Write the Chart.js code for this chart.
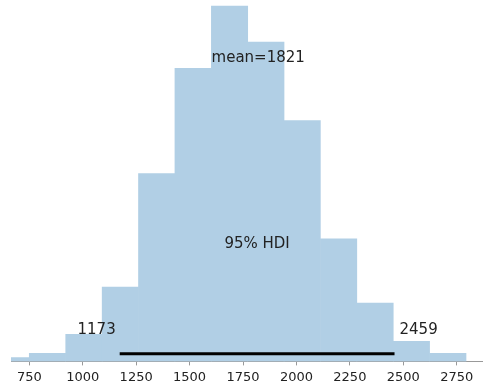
<!DOCTYPE html>
<html lang="en">
<head>
  <meta charset="UTF-8" />
  <title>Posterior</title>
  <script src="https://cdn.jsdelivr.net/npm/chart.js"></script>
  <style>
    html, body {
      margin: 0;
      background: white;
    }
    #posterior {
      display: block;
    }
  </style>
</head>
<body>
  <canvas id="posterior" width="483" height="384"></canvas>

  <script>
    // histogram bins (left edges) and bar heights
    const binEdges = [580, 750, 920, 1091, 1261, 1431, 1602, 1772, 1942, 2112, 2283, 2453, 2623, 2794];
    const binHeights = [3.7, 8, 27, 74, 187, 292, 354, 318, 240, 122, 58, 20, 8];
    const tickValues = [750, 1000, 1250, 1500, 1750, 2000, 2250, 2500, 2750];
    const meanValue = 1821;
    const hdiLow = 1173;
    const hdiHigh = 2459;

    const bars = binHeights.map((h, i) => ({ x: (binEdges[i] + binEdges[i + 1]) / 2, y: h }));

    const textColor = '#222';
    const font = 'DejaVu Sans';

    const annotations = {
      id: 'annotations',
      afterDatasetsDraw(chart) {
        const c = chart.ctx;
        const xs = chart.scales.x;
        const ys = chart.scales.y;
        c.save();
        c.fillStyle = textColor;
        c.font = '15px "' + font + '"';
        c.textBaseline = 'middle';

        c.textAlign = 'center';
        c.fillText('mean=' + meanValue, xs.getPixelForValue(meanValue), ys.getPixelForValue(302));
        c.fillText('95% HDI', xs.getPixelForValue((hdiLow + hdiHigh) / 2), ys.getPixelForValue(116.5));

        c.textAlign = 'right';
        c.fillText(String(hdiLow), xs.getPixelForValue(hdiLow) - 4, ys.getPixelForValue(31));
        c.textAlign = 'left';
        c.fillText(String(hdiHigh), xs.getPixelForValue(hdiHigh) + 5, ys.getPixelForValue(31));
        c.restore();
      }
    };

    new Chart(document.getElementById('posterior'), {
      data: {
        datasets: [
          {
            type: 'bar',
            data: bars,
            backgroundColor: 'rgb(177, 207, 229)',
            borderWidth: 0,
            barPercentage: 1,
            categoryPercentage: 1,
            order: 2
          },
          {
            type: 'line',
            data: [{ x: hdiLow, y: 7.7 }, { x: hdiHigh, y: 7.7 }],
            borderColor: '#000',
            borderWidth: 3,
            pointRadius: 0,
            order: 1
          }
        ]
      },
      options: {
        responsive: false,
        animation: false,
        layout: { padding: { left: 11, right: 0, top: 0, bottom: -5 } },
        plugins: {
          legend: { display: false },
          tooltip: { enabled: false }
        },
        scales: {
          x: {
            type: 'linear',
            offset: false,
            min: 664.4,
            max: 2873,
            grid: { offset: false, drawOnChartArea: false, drawTicks: true, tickLength: 4, tickColor: '#999' },
            border: { display: true, color: '#999', width: 1 },
            afterBuildTicks(axis) {
              axis.ticks = tickValues.map(v => ({ value: v }));
            },
            ticks: {
              autoSkip: false,
              maxRotation: 0,
              padding: 4,
              color: textColor,
              font: { family: font, size: 13 },
              callback: v => String(v)
            }
          },
          y: {
            display: false,
            min: 0,
            max: 360
          }
        }
      },
      plugins: [annotations]
    });
  </script>
</body>
</html>
